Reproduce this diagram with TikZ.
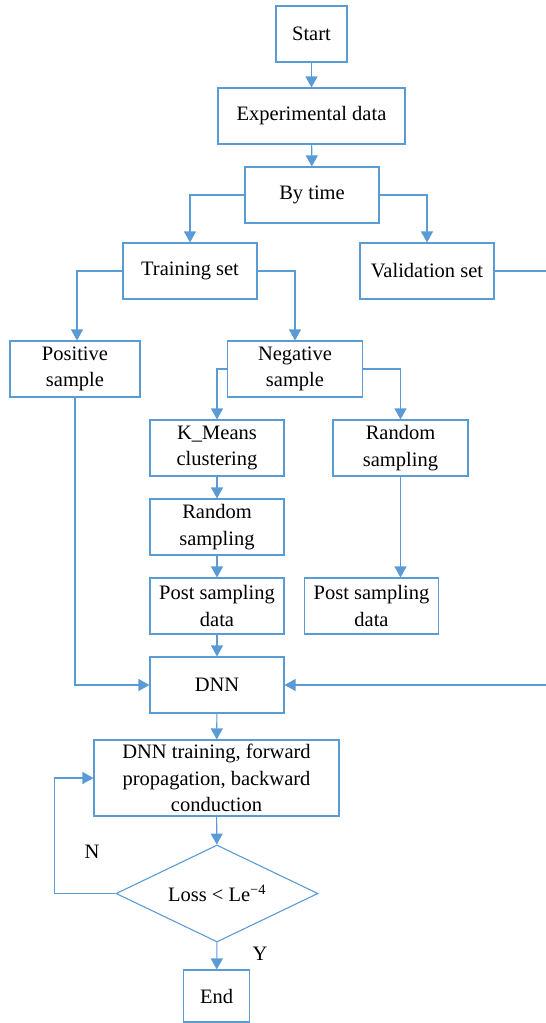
\documentclass[tikz,border=0pt]{standalone}
\usepackage{fontspec}
\setmainfont{Liberation Serif}
\usetikzlibrary{arrows.meta,shapes.geometric}
\definecolor{flowblue}{RGB}{91,155,213}
\tikzset{
    box/.style={draw=flowblue, line width=1.1pt, align=center, inner sep=2pt, minimum height=56pt},
    decide/.style={draw=flowblue, line width=1.1pt, diamond, aspect=2.1, inner sep=0pt, minimum width=202pt, minimum height=97pt},
    flow/.style={draw=flowblue, line width=1.1pt, -{Triangle[width=12pt,length=11pt]}},
    plain/.style={draw=flowblue, line width=1.1pt}
}
\begin{document}
\begin{tikzpicture}[x=1pt, y=-1pt, font=\fontsize{20.5}{26.5}\selectfont]
        \useasboundingbox (0,0) rectangle (546,1023);

        \node[box, minimum width=71pt] (start) at (311.5, 34) {Start};
        \node[box, minimum width=187pt] (data) at (311.5, 116) {Experimental data};
        \node[box, minimum width=134pt] (bytime) at (312, 195) {By time};
        \node[box, minimum width=134pt] (train) at (190, 271) {Training set};
        \node[box, minimum width=134pt] (valid) at (427, 271) {Validation set};
        \node[box, minimum width=130pt] (pos) at (75, 369) {Positive\\sample};
        \node[box, minimum width=135pt] (neg) at (295, 369) {Negative\\sample};
        \node[box, minimum width=134pt] (kmeans) at (217, 448) {K\_Means\\clustering};
        \node[box, minimum width=135pt] (rrand) at (400.5, 448) {Random\\sampling};
        \node[box, minimum width=134pt] (lrand) at (217, 527) {Random\\sampling};
        \node[box, minimum width=134pt] (lpost) at (217, 606) {Post sampling\\data};
        \node[box, minimum width=134pt] (rpost) at (371.5, 606) {Post sampling\\data};
        \node[box, minimum width=134pt] (dnn) at (217, 685) {DNN};
        \node[box, minimum width=245pt, minimum height=76pt] (dnntrain) at (216.5, 778) {DNN training, forward\\propagation, backward\\conduction};
        \node[decide] (loss) at (217, 893.5) {Loss < Le\textsuperscript{−4}};
        \node[box, minimum width=66pt, minimum height=52pt] (end) at (216.7, 996) {End};
        \node (nlab) at (92, 852) {N};
        \node (ylab) at (260, 954) {Y};
        \coordinate (vright) at (550, 271);

        \draw[flow] (start) -- (data);
        \draw[flow] (data) -- (bytime);
        \draw[flow] (bytime.west) -| (train.north);
        \draw[flow] (bytime.east) -| (valid.north);
        \draw[flow] (train.west) -| ([xshift=2pt]pos.north);
        \draw[flow] (train.east) -| (neg.north);
        \draw[flow] (neg.west) -| (kmeans.north);
        \draw[flow] (neg.east) -| (rrand.north);
        \draw[flow] (kmeans) -- (lrand);
        \draw[flow] (lrand) -- (lpost);
        \draw[flow] (rrand.south) -- (rrand.south |- rpost.north);
        \draw[flow] (lpost) -- (dnn);
        \draw[flow] (pos.south) |- (dnn.west);
        \draw[plain] (valid.east) -- (vright);
        \draw[flow] (vright) |- (dnn.east);
        \draw[flow] (dnn) -- (dnntrain);
        \draw[flow] (dnntrain) -- (loss);
        \draw[flow] (loss.west) -- ++(-61,0) |- (dnntrain.west);
        \draw[flow] (loss) -- (end);

    \end{tikzpicture}
\end{document}
